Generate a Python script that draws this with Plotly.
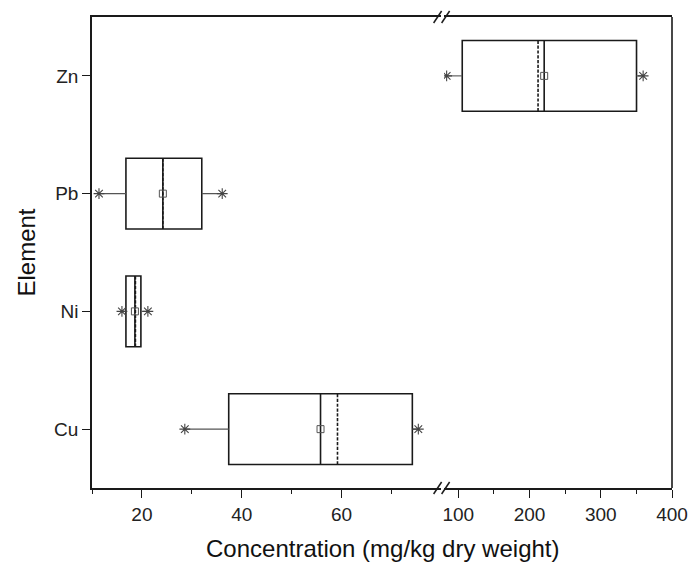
import plotly.graph_objects as go

# ---- data (mg/kg dry weight) ----
elements_left = ["Cu", "Ni", "Pb"]
q1_left = [37.4, 16.8, 16.8]
median_left = [55.8, 18.6, 24.2]
q3_left = [74.2, 19.8, 32.0]
mean_left = [59.2, 18.7, 24.2]
min_left = [28.6, 16.0, 11.4]
max_left = [75.4, 21.2, 36.1]

elements_right = ["Zn"]
q1_right = [105.6]
median_right = [220.6]
q3_right = [350.2]
mean_right = [212.0]
min_right = [83.7]
max_right = [359.5]

categories = ["Cu", "Ni", "Pb", "Zn"]
left_ticks = [20, 40, 60]
right_ticks = [100, 200, 300, 400]

FONT = "Liberation Sans, Arial, sans-serif"
AX = "#1a1a1a"
GRAY = "#555555"

fig = go.Figure()

def add_group(names, q1, med, q3, mean, lo, hi, xa):
    fig.add_trace(go.Box(
        y=names, q1=q1, median=med, q3=q3, mean=mean,
        lowerfence=q1, upperfence=q3, orientation="h",
        boxmean=True, width=0.6, whiskerwidth=0,
        fillcolor="rgba(0,0,0,0)", line=dict(color=AX, width=1.6),
        xaxis=xa, yaxis="y", showlegend=False, hoverinfo="skip"))
    for n, a, b, c, d in zip(names, lo, q1, q3, hi):
        for xs in ([a, b], [c, d]):
            fig.add_trace(go.Scatter(
                x=xs, y=[n, n], mode="lines",
                line=dict(color=GRAY, width=1.1),
                xaxis=xa, yaxis="y", showlegend=False, hoverinfo="skip"))
    fig.add_trace(go.Scatter(
        x=med, y=names, mode="markers",
        marker=dict(symbol="square-open", size=7, color=GRAY, line=dict(width=1)),
        xaxis=xa, yaxis="y", showlegend=False, hoverinfo="skip"))
    fig.add_trace(go.Scatter(
        x=lo + hi, y=names + names, mode="markers",
        marker=dict(symbol="asterisk-open", size=9, color="#444444",
                    line=dict(width=1.1, color="#444444")),
        xaxis=xa, yaxis="y", showlegend=False, hoverinfo="skip"))

add_group(elements_left, q1_left, median_left, q3_left, mean_left, min_left, max_left, "x")
add_group(elements_right, q1_right, median_right, q3_right, mean_right, min_right, max_right, "x2")

axis_common = dict(
    showline=True, linecolor=AX, linewidth=1.6, mirror=True, automargin=False,
    ticks="outside", ticklen=8, tickwidth=1.3, tickcolor=AX,
    showgrid=False, zeroline=False,
    tickfont=dict(family=FONT, size=19, color="#222222"),
)

fig.update_layout(
    width=690, height=566,
    margin=dict(l=92, r=18, t=17, b=78, autoexpand=False),
    paper_bgcolor="white", plot_bgcolor="white",
    xaxis=dict(domain=[0, 0.6022], range=[10, 80], tickvals=left_ticks,
               minor=dict(tickvals=[10, 30, 50, 70], ticks="outside", ticklen=4,
                          tickwidth=1.3, tickcolor=AX),
               anchor="y", **axis_common),
    xaxis2=dict(domain=[0.6069, 1], range=[80, 400], tickvals=right_ticks,
                minor=dict(tickvals=[150, 250, 350], ticks="outside", ticklen=4,
                           tickwidth=1.3, tickcolor=AX),
                anchor="y", **axis_common),
    yaxis=dict(type="category", categoryorder="array", categoryarray=categories,
               range=[-0.5, 3.5], showline=True, linecolor=AX, linewidth=1.6,
               ticks="outside", ticklen=8, tickwidth=1.3, tickcolor=AX,
               showgrid=False, zeroline=False, automargin=False,
               tickfont=dict(family=FONT, size=19, color="#222222"),
               title=dict(text="Element", font=dict(family=FONT, size=24, color="#111111"),
                          standoff=12)),
)

fig.add_shape(type="line", xref="paper", yref="paper", x0=1, x1=1, y0=0, y1=1,
              line=dict(color=AX, width=1.6))

W, H = 580.0, 471.0
bx = 0.6045
for yb in (0.0, 1.0):
    for dx in (-5.0, 3.0):
        x0 = bx + (dx - 4) / W
        x1 = bx + (dx + 4) / W
        fig.add_shape(type="line", xref="paper", yref="paper",
                      x0=x0, x1=x1, y0=yb - 6 / H, y1=yb + 6 / H,
                      line=dict(color=AX, width=1.5))

fig.add_annotation(text="Concentration (mg/kg dry weight)", xref="paper", yref="paper",
                   x=0.5, y=0, yanchor="middle", yshift=-60, showarrow=False,
                   font=dict(family=FONT, size=24, color="#111111"))

fig.write_html("out.html")
